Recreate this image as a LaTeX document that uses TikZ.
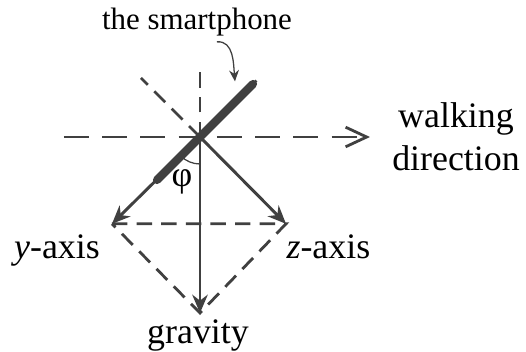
\documentclass[tikz,border=0pt]{standalone}
\usepackage{fontspec}
\setmainfont{Liberation Serif}
\usetikzlibrary{arrows.meta,positioning}
\definecolor{axisgray}{HTML}{404040}
\tikzset{
  lbl/.style={inner sep=0pt, font=\fontsize{25.5}{30.6}\selectfont},
  axisarrow/.style={draw=axisgray, line width=2.1pt, -{Stealth[length=13pt,width=11pt]}},
  longdash/.style={draw=axisgray, line width=2pt, dash pattern=on 17.8pt off 9.4pt},
  shortdash/.style={draw=axisgray, line width=2pt, dash pattern=on 11pt off 6.5pt}
}
\begin{document}
\begin{tikzpicture}
  \useasboundingbox (-5,-5.375) rectangle (8.15,3.425);
  \coordinate (O) at (0,0);
  \coordinate (wstart) at (-3.4,0); \coordinate (wtip) at (4.25,0);
  \coordinate (vtop) at (0,1.725); \coordinate (dtop) at (-1.475,1.475);
  \coordinate (ytip) at (-2.2,-2.17); \coordinate (ztip) at (2.15,-2.17);
  \coordinate (gtip) at (0,-4.4);
  \coordinate (phA) at (-1.075,-1.075); \coordinate (phB) at (1.325,1.325);
  \coordinate (phEnd) at (1.41,1.41); \coordinate (ctip) at (0.875,1.39);
  \draw[longdash, -{Straight Barb[length=15pt,width=14pt]}] (wstart) -- (wtip);
  \draw[shortdash] (O) -- (vtop);
  \draw[shortdash] (O) -- (dtop);
  \draw[shortdash] (ytip) -- (ztip) -- (gtip) -- cycle;
  \draw[axisarrow] (O) -- (ytip);
  \draw[axisarrow] (O) -- (ztip);
  \draw[axisarrow] (O) -- (gtip);
  \draw[axisgray, line width=1.8pt] (phA) -- (phEnd);
  \draw[axisgray, line width=5.8pt, line cap=round] (phA) -- (phB);
  \draw[axisgray, line width=0.9pt] (225:0.675) arc (225:270:0.675);
  \node[lbl] (phi) at (-0.45,-1.125) {φ};
  \node[lbl, right=0.55 of wtip, align=center] (walk) {walking\\direction};
  \node[lbl, anchor=base] (ylbl) at (-3.575,-3.025) {\textit{y}-axis};
  \node[lbl, anchor=base] (zlbl) at (3.21,-3.025) {\textit{z}-axis};
  \node[lbl, anchor=base] (glbl) at (-0.05,-5.15) {gravity};
  \node[lbl, anchor=base, font=\fontsize{22}{25}\selectfont] (smart) at (-0.075,2.7) {the smartphone};
  \draw[axisgray, line width=0.9pt, -{Stealth[length=8pt,width=7pt]}]
    ([xshift=0.5cm,yshift=-0.15cm]smart.south) to[out=5,in=95] (ctip);
\end{tikzpicture}
\end{document}
